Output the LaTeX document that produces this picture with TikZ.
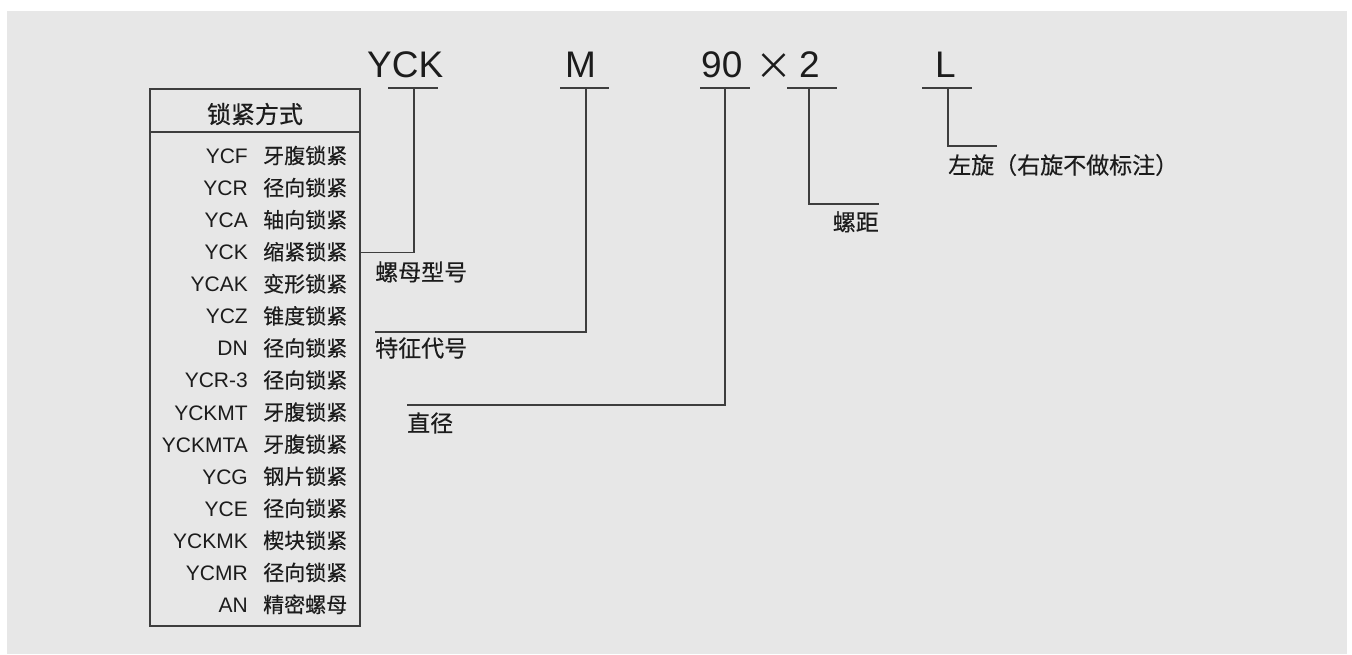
\documentclass[tikz,border=0pt]{standalone}
\usepackage{fontspec}
\setmainfont{Liberation Sans}
\newfontfamily\cjk[FakeBold=0.4]{Noto Sans CJK SC}
\newfontfamily\cjkx{Noto Sans CJK SC}
\definecolor{bg}{RGB}{231,231,231}
\definecolor{ink}{RGB}{28,28,28}
\definecolor{ln}{RGB}{62,62,62}
\begin{document}
\begin{tikzpicture}[x=1pt,y=-1pt,
  code/.style={inner sep=0pt, font=\fontsize{21pt}{24pt}\selectfont, text=ink, anchor=base east},
  desc/.style={inner sep=0pt, font=\fontsize{21pt}{24pt}\selectfont\cjk, text=ink, anchor=base west},
  big/.style={inner sep=0pt, font=\fontsize{37pt}{40pt}\selectfont, text=ink, anchor=base west},
  lbl/.style={inner sep=0pt, font=\fontsize{23pt}{26pt}\selectfont\cjk, text=ink},
  conn/.style={draw=ln, line width=1.4pt},
  tablebox/.style={draw=ln, line width=1.4pt, inner sep=0pt, outer sep=0pt, minimum width=210pt, minimum height=537pt, anchor=north west}
]
\useasboundingbox (0,0) rectangle (1352,654);
\fill[bg] (7,11) rectangle (1347,654);

% table
\node[tablebox] (box) at (150,89) {};
\node[lbl, font=\fontsize{24pt}{26pt}\selectfont\cjk] (hdr) at (255,114) {锁紧方式};
\coordinate (hl1) at (150,132);
\coordinate (hl2) at (360,132);
\draw[conn] (hl1) -- (hl2);
\foreach \c/\d [count=\i from 0] in {YCF/牙腹锁紧, YCR/径向锁紧, YCA/轴向锁紧, YCK/缩紧锁紧, YCAK/变形锁紧, YCZ/锥度锁紧, DN/径向锁紧, YCR-3/径向锁紧, YCKMT/牙腹锁紧, YCKMTA/牙腹锁紧, YCG/钢片锁紧, YCE/径向锁紧, YCKMK/楔块锁紧, YCMR/径向锁紧, AN/精密螺母}{
  \node[code] (c\i) at (248,{163.5+32.07*\i}) {\c};
  \node[desc] (d\i) at (263,{163.5+32.07*\i}) {\d};
}

% designation
\node[big] (yck) at (367,77) {YCK};
\node[big] (m) at (565,77) {M};
\node[big] (dia) at (701,77) {90};
\node[inner sep=0pt, font=\fontsize{37pt}{40pt}\selectfont\cjkx, text=ink] (times) at (773.5,66.5) {×};
\node[big] (pitch) at (799,77) {2};
\node[big] (hand) at (935,77) {L};

% underlines
\coordinate (u1a) at (388,88); \coordinate (u1b) at (438,88); \coordinate (u1c) at (414,88);
\coordinate (u2a) at (560,88); \coordinate (u2b) at (609,88); \coordinate (u2c) at (586,88);
\coordinate (u3a) at (700,88); \coordinate (u3b) at (750,88); \coordinate (u3c) at (725,88);
\coordinate (u4a) at (787,88); \coordinate (u4b) at (837,88); \coordinate (u4c) at (809,88);
\coordinate (u5a) at (922,88); \coordinate (u5b) at (972,88); \coordinate (u5c) at (948,88);
\foreach \k in {1,...,5}{ \draw[conn] (u\k a) -- (u\k b); }

% labels
\node[lbl, anchor=west] (l1) at (375,272) {螺母型号};
\node[lbl, anchor=west] (l2) at (375,348) {特征代号};
\node[lbl, anchor=west] (l3) at (407,423) {直径};
\node[lbl, anchor=east] (l4) at (879,222) {螺距};
\node[lbl, anchor=west] (l5) at (948,165) {左旋（右旋不做标注）};

\coordinate (e2) at (375,332);
\coordinate (e3) at (407,405);
\coordinate (e4) at (879,204);
\coordinate (e5) at (997,146);

% connectors
\draw[conn] (u1c) |- (box.east |- c3);
\draw[conn] (u2c) |- (e2);
\draw[conn] (u3c) |- (e3);
\draw[conn] (u4c) |- (e4);
\draw[conn] (u5c) |- (e5);
\end{tikzpicture}
\end{document}
